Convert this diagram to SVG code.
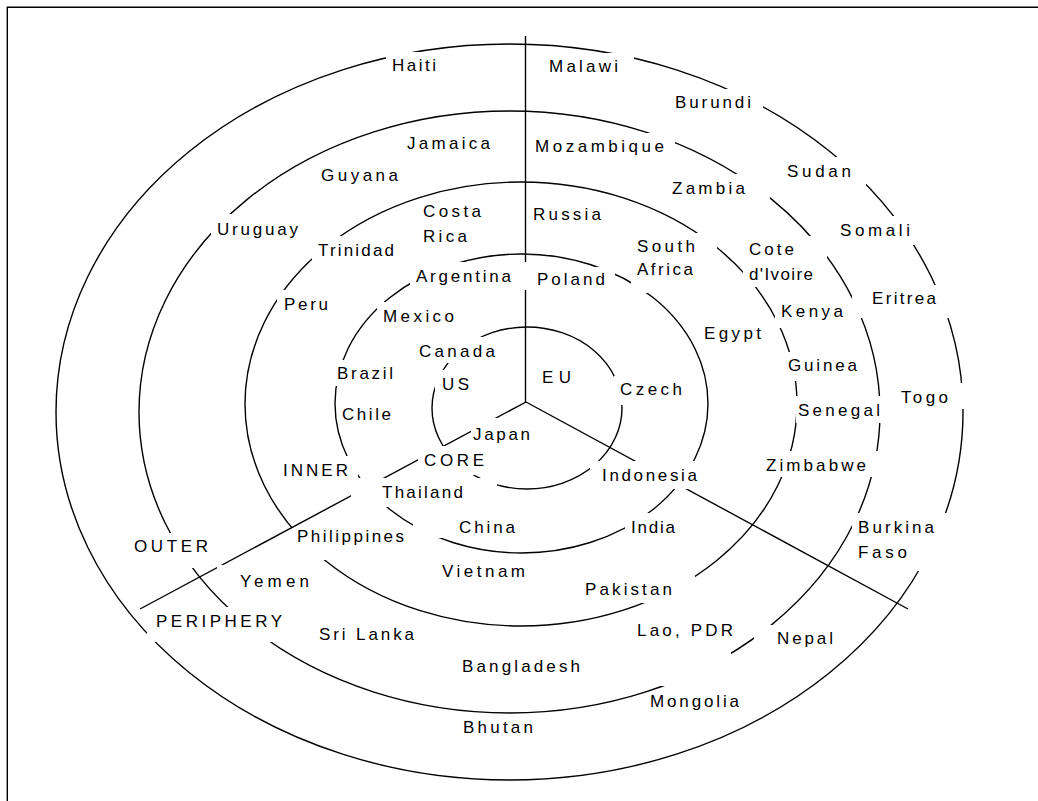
<svg xmlns="http://www.w3.org/2000/svg" width="1038" height="801" viewBox="0 0 1038 801">
<style>
.ln{fill:none;stroke:#000;stroke-width:1.4}
.bg{fill:#fff}
text{font-family:"Liberation Sans",Arial,sans-serif;font-size:17px;fill:#000}
</style>
<rect x="0" y="0" width="1038" height="801" fill="#fff"/>
<g id="frame" class="ln"><path d="M7.3,801 V7.3 H1038"/></g>
<g id="connectors" class="ln">
<ellipse id="ring-core" cx="527" cy="408" rx="95" ry="81"/>
<ellipse id="ring-inner" cx="521.5" cy="403.5" rx="186.5" ry="149.5"/>
<ellipse id="ring-outer" cx="521" cy="404" rx="276" ry="222"/>
<ellipse id="ring-4" cx="509.5" cy="412" rx="370.5" ry="301"/>
<ellipse id="ring-5" cx="509.5" cy="412" rx="453.5" ry="368"/>
<path d="M525.5,36 V402.5"/>
<path d="M526,402 L140,609"/>
<path d="M526,402 L908,609"/>
</g>
<g id="haiti"><rect class="bg" x="386" y="52" width="56" height="28"/><text x="392" y="71" textLength="44" lengthAdjust="spacing">Haiti</text></g>
<g id="malawi"><rect class="bg" x="533" y="53" width="101" height="28"/><text x="549" y="72" textLength="69" lengthAdjust="spacing">Malawi</text></g>
<g id="burundi"><rect class="bg" x="663" y="89" width="100" height="28"/><text x="675" y="108" textLength="76" lengthAdjust="spacing">Burundi</text></g>
<g id="jamaica"><rect class="bg" x="400" y="129" width="97" height="28"/><text x="407" y="149" textLength="83" lengthAdjust="spacing">Jamaica</text></g>
<g id="mozambique"><rect class="bg" x="528" y="133" width="147" height="28"/><text x="535" y="152" textLength="129" lengthAdjust="spacing">Mozambique</text></g>
<g id="sudan"><rect class="bg" x="772" y="157" width="94" height="29"/><text x="787" y="177" textLength="64" lengthAdjust="spacing">Sudan</text></g>
<g id="guyana"><rect class="bg" x="314" y="161" width="91" height="28"/><text x="321" y="181" textLength="77" lengthAdjust="spacing">Guyana</text></g>
<g id="zambia"><rect class="bg" x="647" y="174" width="123" height="29"/><text x="672" y="194" textLength="73" lengthAdjust="spacing">Zambia</text></g>
<g id="costa-rica"><rect class="bg" x="416" y="201" width="72" height="49"/><text x="423" y="217" textLength="58" lengthAdjust="spacing">Costa</text><text x="423" y="242" textLength="44" lengthAdjust="spacing">Rica</text></g>
<g id="russia"><rect class="bg" x="528" y="200" width="78" height="28"/><text x="533" y="220" textLength="68" lengthAdjust="spacing">Russia</text></g>
<g id="uruguay"><rect class="bg" x="211" y="214" width="93" height="29"/><text x="217" y="235" textLength="81" lengthAdjust="spacing">Uruguay</text></g>
<g id="somali"><rect class="bg" x="830" y="216" width="86" height="29"/><text x="840" y="236" textLength="70" lengthAdjust="spacing">Somali</text></g>
<g id="south-africa"><rect class="bg" x="631" y="233" width="86" height="60"/><text x="637" y="252" textLength="58" lengthAdjust="spacing">South</text><text x="637" y="275" textLength="56" lengthAdjust="spacing">Africa</text></g>
<g id="cote-divoire"><rect class="bg" x="743" y="236" width="84" height="51"/><text x="749" y="255" textLength="45" lengthAdjust="spacing">Cote</text><text x="749" y="280" textLength="64" lengthAdjust="spacing">d'Ivoire</text></g>
<g id="trinidad"><rect class="bg" x="312" y="236" width="88" height="29"/><text x="318" y="256" textLength="76" lengthAdjust="spacing">Trinidad</text></g>
<g id="argentina"><rect class="bg" x="410" y="262" width="118" height="28"/><text x="416" y="282" textLength="95" lengthAdjust="spacing">Argentina</text></g>
<g id="poland"><rect class="bg" x="527" y="267" width="88" height="27"/><text x="537" y="285" textLength="68" lengthAdjust="spacing">Poland</text></g>
<g id="eritrea"><rect class="bg" x="852" y="285" width="98" height="33"/><text x="872" y="304" textLength="64" lengthAdjust="spacing">Eritrea</text></g>
<g id="peru"><rect class="bg" x="277" y="290" width="58" height="28"/><text x="284" y="310" textLength="44" lengthAdjust="spacing">Peru</text></g>
<g id="kenya"><rect class="bg" x="775" y="297" width="74" height="31"/><text x="781" y="317" textLength="62" lengthAdjust="spacing">Kenya</text></g>
<g id="mexico"><rect class="bg" x="377" y="302" width="83" height="28"/><text x="383" y="322" textLength="71" lengthAdjust="spacing">Mexico</text></g>
<g id="egypt"><rect class="bg" x="697" y="320" width="71" height="27"/><text x="704" y="339" textLength="57" lengthAdjust="spacing">Egypt</text></g>
<g id="canada"><rect class="bg" x="412" y="337" width="90" height="26"/><text x="419" y="357" textLength="76" lengthAdjust="spacing">Canada</text></g>
<g id="guinea"><rect class="bg" x="786" y="352" width="80" height="29"/><text x="788" y="371" textLength="69" lengthAdjust="spacing">Guinea</text></g>
<g id="brazil"><rect class="bg" x="330" y="360" width="70" height="26"/><text x="337" y="379" textLength="56" lengthAdjust="spacing">Brazil</text></g>
<g id="eu"><rect class="bg" x="535" y="363" width="43" height="28"/><text x="542" y="383" textLength="29" lengthAdjust="spacing">EU</text></g>
<g id="us"><rect class="bg" x="435" y="370" width="41" height="28"/><text x="442" y="390" textLength="27" lengthAdjust="spacing">US</text></g>
<g id="czech"><rect class="bg" x="614" y="376" width="76" height="29"/><text x="620" y="395" textLength="62" lengthAdjust="spacing">Czech</text></g>
<g id="togo"><rect class="bg" x="883" y="383" width="83" height="26"/><text x="901" y="403" textLength="47" lengthAdjust="spacing">Togo</text></g>
<g id="senegal"><rect class="bg" x="796" y="396" width="86" height="27"/><text x="798" y="416" textLength="82" lengthAdjust="spacing">Senegal</text></g>
<g id="chile"><rect class="bg" x="339" y="401" width="56" height="27"/><text x="342" y="420" textLength="49" lengthAdjust="spacing">Chile</text></g>
<g id="japan"><rect class="bg" x="471" y="418" width="64" height="29"/><text x="473" y="440" textLength="57" lengthAdjust="spacing">Japan</text></g>
<g id="core"><rect class="bg" x="418" y="446" width="72" height="29"/><text x="424" y="466" textLength="60" lengthAdjust="spacing">CORE</text></g>
<g id="zimbabwe"><rect class="bg" x="754" y="451" width="125" height="26"/><text x="766" y="471" textLength="100" lengthAdjust="spacing">Zimbabwe</text></g>
<g id="inner"><rect class="bg" x="273" y="456" width="85" height="29"/><text x="283" y="476" textLength="65" lengthAdjust="spacing">INNER</text></g>
<g id="indonesia"><rect class="bg" x="590" y="461" width="113" height="28"/><text x="602" y="481" textLength="95" lengthAdjust="spacing">Indonesia</text></g>
<g id="thailand"><rect class="bg" x="351" y="478" width="146" height="29"/><text x="382" y="498" textLength="81" lengthAdjust="spacing">Thailand</text></g>
<g id="china"><rect class="bg" x="413" y="513" width="148" height="25"/><text x="459" y="533" textLength="56" lengthAdjust="spacing">China</text></g>
<g id="india"><rect class="bg" x="625" y="513" width="56" height="29"/><text x="631" y="533" textLength="44" lengthAdjust="spacing">India</text></g>
<g id="burkina-faso"><rect class="bg" x="852" y="513" width="98" height="58"/><text x="858" y="533" textLength="76" lengthAdjust="spacing">Burkina</text><text x="858" y="558" textLength="49" lengthAdjust="spacing">Faso</text></g>
<g id="philippines"><rect class="bg" x="292" y="528" width="118" height="32"/><text x="297" y="542" textLength="107" lengthAdjust="spacing">Philippines</text></g>
<g id="outer"><rect class="bg" x="127" y="533" width="88" height="35"/><text x="134" y="552" textLength="74" lengthAdjust="spacing">OUTER</text></g>
<g id="vietnam"><rect class="bg" x="435" y="557" width="96" height="28"/><text x="442" y="577" textLength="83" lengthAdjust="spacing">Vietnam</text></g>
<g id="yemen"><rect class="bg" x="217" y="565" width="113" height="29"/><text x="240" y="587" textLength="69" lengthAdjust="spacing">Yemen</text></g>
<g id="pakistan"><rect class="bg" x="562" y="576" width="133" height="27"/><text x="585" y="595" textLength="87" lengthAdjust="spacing">Pakistan</text></g>
<g id="periphery"><rect class="bg" x="147" y="607" width="143" height="35"/><text x="156" y="627" textLength="126" lengthAdjust="spacing">PERIPHERY</text></g>
<g id="lao-pdr"><rect class="bg" x="639" y="617" width="92" height="69"/><text x="637" y="636" textLength="96" lengthAdjust="spacing">Lao, PDR</text></g>
<g id="sri-lanka"><rect class="bg" x="312" y="620" width="109" height="28"/><text x="319" y="640" textLength="95" lengthAdjust="spacing">Sri Lanka</text></g>
<g id="nepal"><rect class="bg" x="754" y="625" width="94" height="26"/><text x="777" y="644" textLength="56" lengthAdjust="spacing">Nepal</text></g>
<g id="bangladesh"><rect class="bg" x="455" y="652" width="132" height="28"/><text x="462" y="672" textLength="118" lengthAdjust="spacing">Bangladesh</text></g>
<g id="mongolia"><rect class="bg" x="646" y="695" width="100" height="21"/><text x="650" y="707" textLength="89" lengthAdjust="spacing">Mongolia</text></g>
<g id="bhutan"><rect class="bg" x="456" y="716" width="84" height="25"/><text x="463" y="733" textLength="70" lengthAdjust="spacing">Bhutan</text></g>
</svg>
